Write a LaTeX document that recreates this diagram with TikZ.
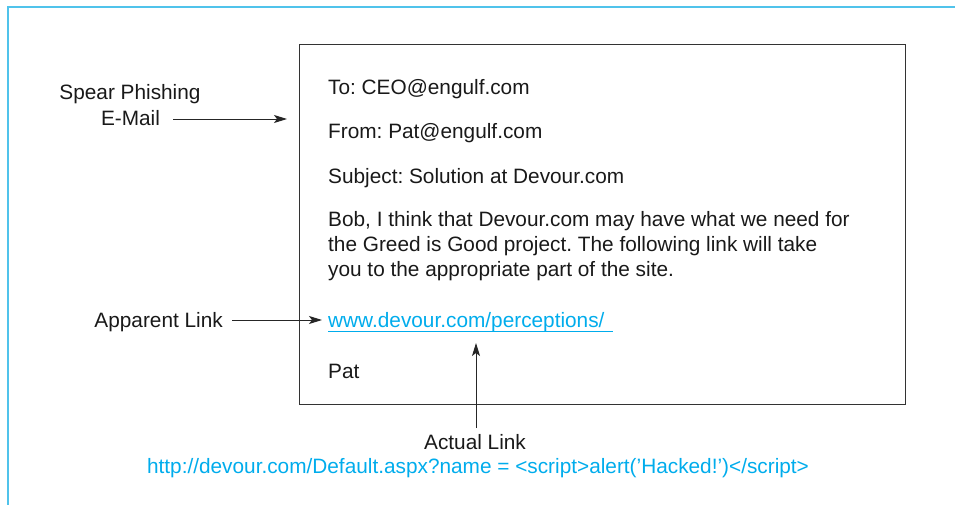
\documentclass[tikz,border=0pt]{standalone}
\usepackage{fontspec}
\setmainfont{Liberation Sans}
\usetikzlibrary{arrows.meta}
\definecolor{pcyan}{RGB}{0,172,236}
\definecolor{framecyan}{RGB}{80,195,235}
\frenchspacing
\begin{document}
\begin{tikzpicture}[x=1pt,y=-1pt,
  txt/.style={inner sep=0pt, font=\fontsize{20.8}{25}\selectfont, text=black!90},
  lbl/.style={txt, align=center},
  arr/.style={draw=black!85, line width=0.9pt, -{Stealth[length=13pt,width=8pt,inset=3pt]}},
  ]
\useasboundingbox (0,0) rectangle (955,505);
\draw[framecyan, line width=2pt] (8,505) -- (8,7) -- (955,7);
\node[draw=black!80, line width=0.9pt, minimum width=606pt, minimum height=360pt, anchor=north west, inner sep=0pt] (box) at (299,44) {};
\node[txt, anchor=base west] (to) at (328,95) {To: CEO@engulf.com};
\node[txt, anchor=base west] (from) at (328,139) {From: Pat@engulf.com};
\node[txt, anchor=base west] (subj) at (328,183) {Subject: Solution at Devour.com};
\node[txt, anchor=base west, align=left] (body) at (328,276) {Bob, I think that Devour.com may have what we need for\\the Greed is Good project. The following link will take\\you to the appropriate part of the site.};
\node[txt, anchor=base west, text=pcyan] (link) at (328,327) {www.devour.com/perceptions/};
\draw[pcyan, line width=0.8pt] (328,331.5) -- (613,331.5);
\node[txt, anchor=base west] (pat) at (328,378) {Pat};
\node[lbl, anchor=base] (spear) at (130,100) {Spear Phishing};
\node[lbl, anchor=base] (email) at (130.5,126) {E-Mail};
\node[lbl, anchor=base east] (app) at (223,327) {Apparent Link};
\node[lbl, anchor=base] (act) at (475,449) {Actual Link};
\node[txt, anchor=base, text=pcyan] (url) at (478,473) {http://devour.com/Default.aspx?name = <script>alert(’Hacked!’)</script>};
\coordinate (c1) at (287,119);
\coordinate (c2) at (322,320);
\coordinate (c3) at (476,343);
\coordinate (c4) at (476,428);
\draw[arr] (173,119) -- (c1);
\draw[arr] (232,320) -- (c2);
\draw[arr] (c4) -- (c3);
\end{tikzpicture}
\end{document}
